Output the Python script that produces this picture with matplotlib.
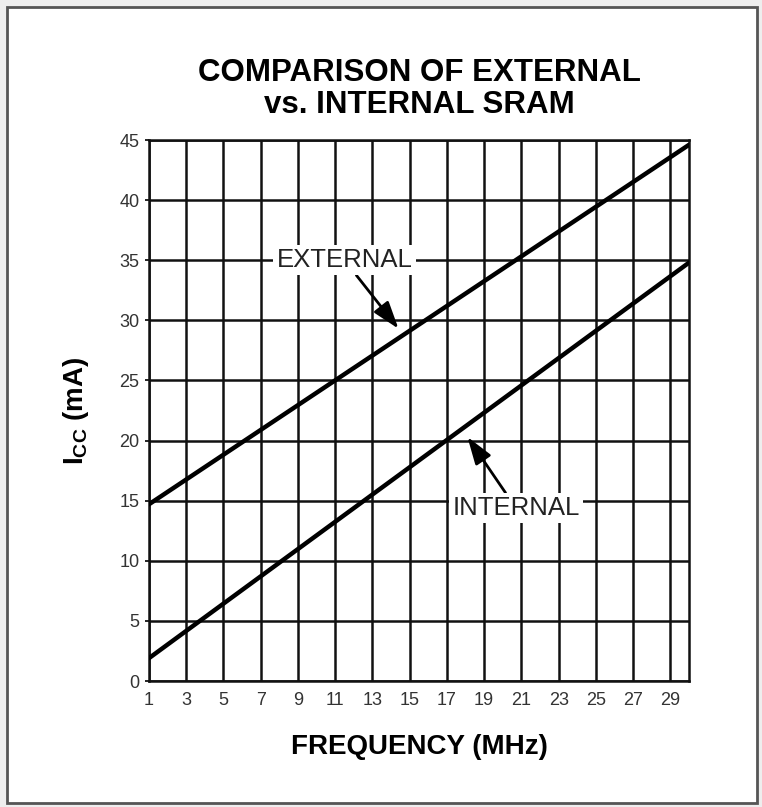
import matplotlib
matplotlib.use("Agg")
import matplotlib.pyplot as plt
from matplotlib.patches import Rectangle

# Data
freq = [1, 30]
external_icc = [14.7, 44.6]
internal_icc = [1.9, 34.8]
x_ticks = list(range(1, 30, 2))
y_ticks = list(range(0, 46, 5))

title = "COMPARISON OF EXTERNAL\nvs. INTERNAL SRAM"
xlabel = "FREQUENCY (MHz)"
ylabel = r"I$_{\mathregular{CC}}$ (mA)"

W, H = 762, 807
fig = plt.figure(figsize=(W / 100, H / 100), dpi=100)
fig.patch.set_facecolor("#eeeeee")
fig.patches.append(Rectangle((7 / W, 4 / H), 750 / W, 796 / H, transform=fig.transFigure,
                             facecolor="white", edgecolor="#555555", linewidth=2.0, zorder=-5))

ax = fig.add_axes([149 / W, 1 - 681 / H, 540 / W, 541 / H], zorder=2)
ax.set_xlim(1, 30)
ax.set_ylim(0, 45)
ax.set_xticks(x_ticks)
ax.set_yticks(y_ticks)
ax.tick_params(axis="x", length=0, pad=8, labelsize=13, labelcolor="#333333")
ax.tick_params(axis="y", length=3, width=1.2, pad=4, labelsize=13, labelcolor="#333333")
for lab in ax.get_xticklabels() + ax.get_yticklabels():
    lab.set_family("Liberation Sans")
for s in ax.spines.values():
    s.set_linewidth(1.8)
    s.set_color("#111111")
ax.grid(True, color="#111111", linewidth=1.8)
ax.set_axisbelow(True)

ax.plot(freq, external_icc, color="black", linewidth=3.2, solid_capstyle="round", zorder=3)
ax.plot(freq, internal_icc, color="black", linewidth=3.2, solid_capstyle="round", zorder=3)

bbox = dict(boxstyle="square,pad=0.12", facecolor="white", edgecolor="none")
arrow = dict(arrowstyle="-|>,head_length=0.9,head_width=0.3", color="black", lw=2.0,
             shrinkA=0, shrinkB=0)
ax.annotate("EXTERNAL", xy=(14.4, 29.3), xytext=(11.5, 35), fontsize=18.5,
            family="Liberation Sans", color="#222222", ha="center", va="center",
            bbox=bbox, arrowprops=arrow, zorder=4)
ax.annotate("INTERNAL", xy=(18.1, 20.3), xytext=(20.7, 14.4), fontsize=18.5,
            family="Liberation Sans", color="#222222", ha="center", va="center",
            bbox=bbox, arrowprops=arrow, zorder=4)

fig.text(419 / W, 1 - 89 / H, title, ha="center", va="center", fontsize=22.5,
         fontweight="bold", family="Liberation Sans", linespacing=1.05)
ax.set_xlabel(xlabel, fontsize=20, fontweight="bold", family="Liberation Sans", labelpad=18)
ax.set_ylabel(ylabel, fontsize=20, fontweight="bold", family="Liberation Sans", labelpad=20)

fig.savefig("out.png", dpi=100, facecolor=fig.get_facecolor())
